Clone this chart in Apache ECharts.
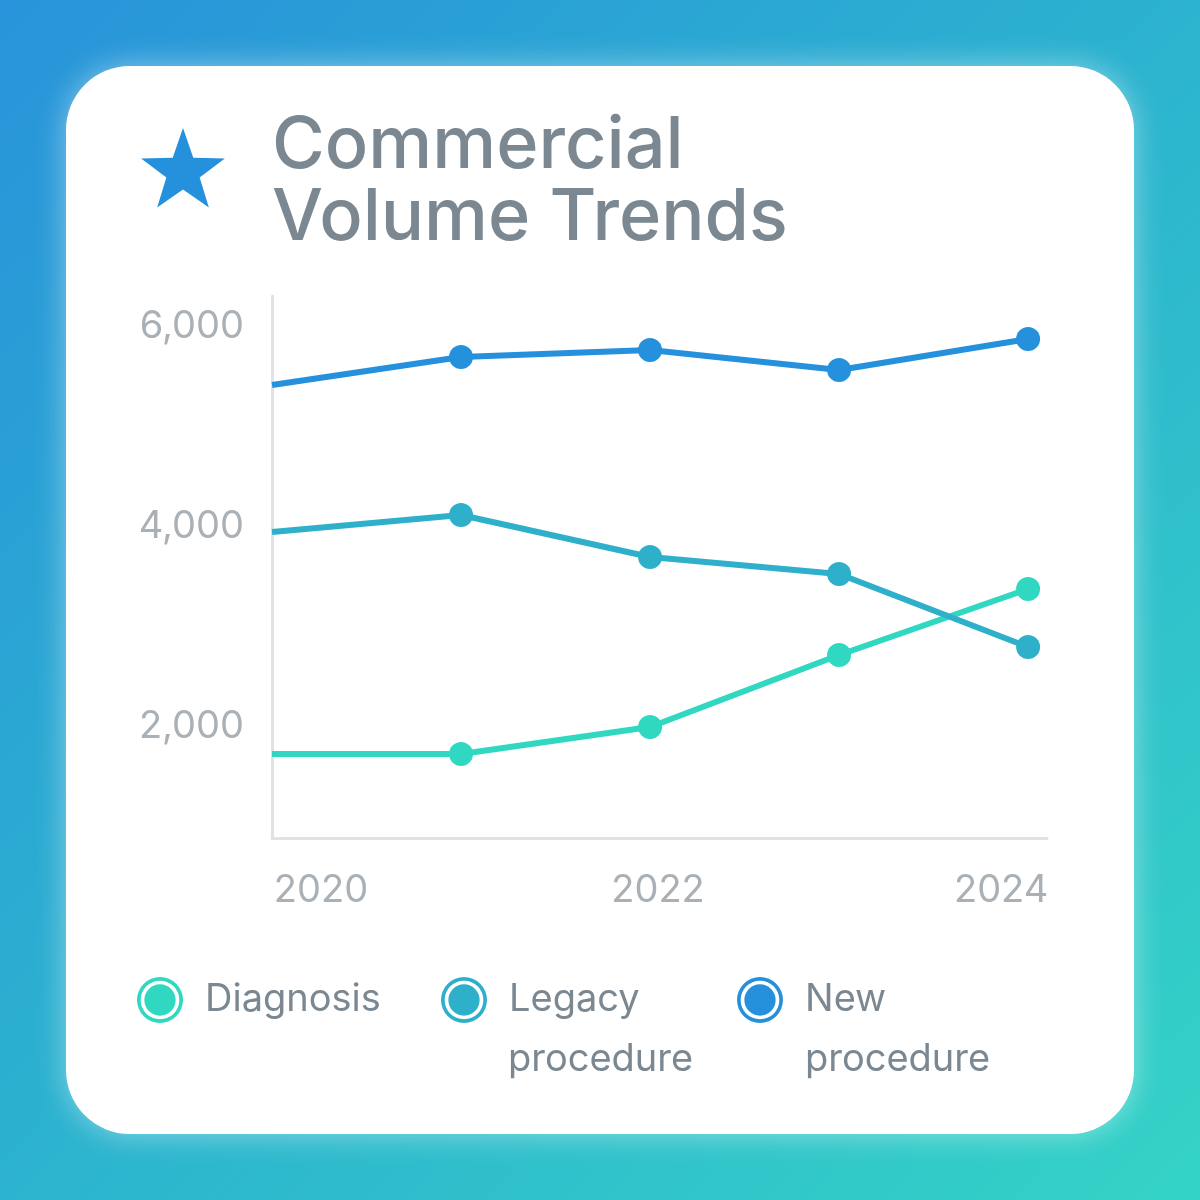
<!DOCTYPE html>
<html>
<head>
<meta charset="utf-8">
<script src="https://cdn.jsdelivr.net/npm/echarts@6/dist/echarts.min.js"></script>
<style>
  html, body { margin: 0; padding: 0; }
  body { width: 1200px; height: 1200px; position: relative; overflow: hidden;
         background: linear-gradient(135deg, #2893da 0%, #2cb3cf 50%, #34d3c6 100%); font-family: Inter, sans-serif; }
  #card { position: absolute; left: 66px; top: 66px; width: 1068px; height: 1068px; background: #fff;
          border-radius: 64px; box-shadow: 0 0 30px rgba(255,255,255,0.45); }
  #main { position: absolute; left: 0; top: 0; width: 1200px; height: 1200px; }
</style>
</head>
<body>
<div id="card"></div>
<div id="main"></div>
<script>
var years = [2020, 2021, 2022, 2023, 2024];
var diagnosis = [1730, 1730, 2000, 2720, 3380];
var legacy = [3950, 4120, 3700, 3530, 2800];
var newProc = [5420, 5700, 5770, 5570, 5880];
var names = ['Diagnosis', 'Legacy procedure', 'New procedure'];
var colors = ['#30d8c2', '#2fb0ca', '#2590dc'];

var myChart = echarts.init(document.getElementById('main'));

var ring = 'path://M50 0 A50 50 0 1 1 50 100 A50 50 0 1 1 50 0 Z M50 8 A42 42 0 1 0 50 92 A42 42 0 1 0 50 8 Z M50 16 A34 34 0 1 1 50 84 A34 34 0 1 1 50 16 Z';

// star outline around its centre
var star = [];
for (var k = 0; k < 10; k++) {
    var r = k % 2 === 0 ? 44 : 17.5;
    var a = -Math.PI / 2 + k * Math.PI / 5;
    star.push([r * Math.cos(a), r * Math.sin(a)]);
}

function pts(vals) {
    return years.map(function (y, i) {
        var d = { value: [y, vals[i]] };
        if (i === 0) d.symbol = 'none';
        return d;
    });
}

// legend shows the first word; a wrapped second line is placed as text under it
function legendFor(i, left) {
    var first = names[i].split(' ')[0];
    return {
        left: left - 5, top: 972, icon: ring, itemWidth: 46, itemHeight: 46, itemGap: 0,
        selectedMode: false, data: [names[i]],
        formatter: function () { return '{t|' + first + '}'; },
        textStyle: {
            rich: { t: { color: '#7b8891', fontSize: 38, fontFamily: 'Inter', lineHeight: 46, padding: [0, 0, 0, 17] } }
        }
    };
}

function secondLine(i, left) {
    var rest = names[i].split(' ').slice(1).join(' ');
    return { type: 'text', left: left, top: 1041,
             style: { text: rest, fill: '#7b8891', font: '38px Inter' } };
}

var option = {
    animation: false,
    color: colors,
    graphic: [
        { type: 'text', left: 272, top: 110,
          style: { text: 'Commercial\nVolume Trends', fill: '#7b8891', font: '500 72px Inter', lineHeight: 72 } },
        { type: 'polygon', shape: { points: star }, x: 183, y: 172, style: { fill: '#2590dc' } },
        secondLine(1, 508),
        secondLine(2, 805)
    ],
    grid: { left: 272, right: 153, top: 296, bottom: 362 },
    legend: [
        legendFor(0, 137),
        legendFor(1, 441),
        legendFor(2, 737)
    ],
    xAxis: {
        type: 'value', min: 2020, max: 2024.1, interval: 2,
        axisLine: { lineStyle: { color: '#dfe2e7', width: 3 } },
        axisTick: { show: false }, splitLine: { show: false },
        axisLabel: {
            margin: 34, color: '#a9b0b6', fontSize: 38, fontFamily: 'Inter',
            showMaxLabel: false,
            formatter: function (v) {
                if (v === 2020) return '{l|2020}';
                if (v === 2024) return '{r|2024}';
                if (v === 2022) return '{c|2022}';
                return '';
            },
            rich: {
                l: { color: '#a9b0b6', fontSize: 38, fontFamily: 'Inter', padding: [0, 0, 0, 98] },
                c: { color: '#a9b0b6', fontSize: 38, fontFamily: 'Inter', padding: [0, 0, 0, 16] },
                r: { color: '#a9b0b6', fontSize: 38, fontFamily: 'Inter', padding: [0, 54, 0, 0] }
            }
        }
    },
    yAxis: {
        type: 'value', min: 890, max: 6310,
        axisLine: { show: true, lineStyle: { color: '#dfe2e7', width: 3 } },
        axisTick: { show: false }, splitLine: { show: false },
        axisLabel: {
            margin: 28, color: '#a9b0b6', fontSize: 38, fontFamily: 'Inter',
            customValues: [2000, 4000, 6000],
            formatter: function (v) { return v.toLocaleString('en-US'); }
        }
    },
    series: [
        { name: names[0], type: 'line', data: pts(diagnosis), symbol: 'circle', symbolSize: 24,
          lineStyle: { width: 6 }, itemStyle: { color: colors[0] } },
        { name: names[1], type: 'line', data: pts(legacy), symbol: 'circle', symbolSize: 24,
          lineStyle: { width: 6 }, itemStyle: { color: colors[1] } },
        { name: names[2], type: 'line', data: pts(newProc), symbol: 'circle', symbolSize: 24,
          lineStyle: { width: 6 }, itemStyle: { color: colors[2] } }
    ]
};

myChart.setOption(option);
</script>
</body>
</html>
